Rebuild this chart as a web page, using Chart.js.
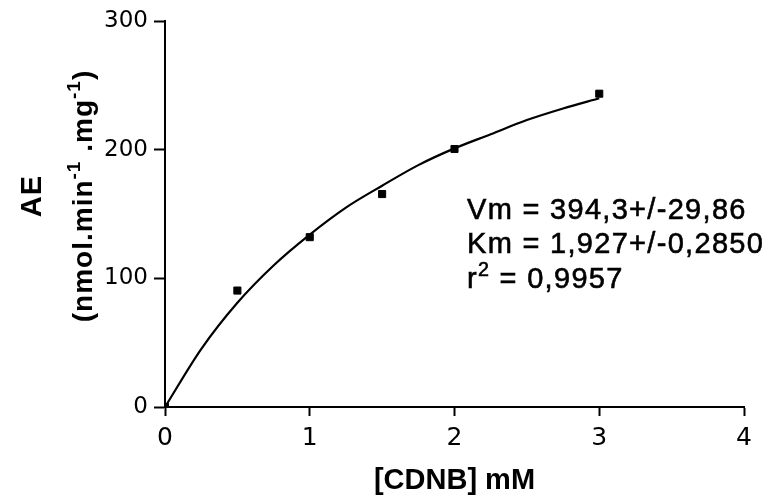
<!DOCTYPE html>
<html>
<head>
<meta charset="utf-8">
<script src="https://cdn.jsdelivr.net/npm/chart.js@4"></script>
<style>
  html, body { margin: 0; padding: 0; background: #fff; }
  #wrap { width: 774px; height: 500px; }
</style>
</head>
<body>
<div id="wrap"><canvas id="chart" width="774" height="500"></canvas></div>
<script>
// measured points
const cdnb = [0, 0.5, 1, 1.5, 2, 3];
const activity = [0, 90.5, 132, 165.5, 200.5, 243.5];

// fitted curve
const fitX = [0, 0.25, 0.5, 0.75, 1, 1.25, 1.5, 1.75, 2, 2.25, 2.5, 2.75, 3];
const fitY = [0, 45, 81, 110, 134, 155, 172, 188, 201, 212, 223, 232, 240];

const xTicks = [0, 1, 2, 3, 4];
const yTicks = [0, 100, 200, 300];

const fitText = ['Vm = 394,3+/-29,86', 'Km = 1,927+/-0,2850'];
const r2Text = '0,9957';

const FONT = '"Liberation Sans", Arial, sans-serif';
const TICKFONT = '"DejaVu Sans", sans-serif';

// draws text pieces, some raised as superscript
function drawPieces(ctx, pieces, x, y, size, bold, spacing, stroke) {
  let cx = x;
  pieces.forEach(p => {
    const s = p.sup ? size * 0.68 : size;
    ctx.font = (bold ? 'bold ' : '') + s + 'px ' + FONT;
    ctx.letterSpacing = spacing + 'px';
    const yy = p.sup ? y - size * 0.42 : y;
    ctx.fillText(p.t, cx, yy);
    if (stroke) {
      ctx.lineWidth = stroke;
      ctx.strokeStyle = '#000';
      ctx.strokeText(p.t, cx, yy);
    }
    cx += ctx.measureText(p.t).width;
  });
  ctx.letterSpacing = '0px';
  return cx - x;
}
function piecesWidth(ctx, pieces, size, bold, spacing) {
  let w = 0;
  pieces.forEach(p => {
    const s = p.sup ? size * 0.68 : size;
    ctx.font = (bold ? 'bold ' : '') + s + 'px ' + FONT;
    ctx.letterSpacing = spacing + 'px';
    w += ctx.measureText(p.t).width;
  });
  ctx.letterSpacing = '0px';
  return w;
}

const textPlugin = {
  id: 'textPlugin',
  afterDraw(chart) {
    const ctx = chart.ctx;
    ctx.save();
    ctx.fillStyle = '#000';
    ctx.textBaseline = 'alphabetic';
    ctx.textAlign = 'left';

    // y axis title, two rotated lines
    const cy = 196;
    const l1 = [{ t: 'AE' }];
    const l2 = [{ t: '(nmol.min' }, { t: '-1', sup: true }, { t: ' .mg' }, { t: '-1', sup: true }, { t: ')' }];
    ctx.save();
    ctx.translate(41, cy);
    ctx.rotate(-Math.PI / 2);
    drawPieces(ctx, l1, -piecesWidth(ctx, l1, 29, true, 1) / 2, 0, 29, true, 1);
    ctx.restore();
    ctx.save();
    ctx.translate(92, cy);
    ctx.rotate(-Math.PI / 2);
    drawPieces(ctx, l2, -piecesWidth(ctx, l2, 28, true, 1) / 2, 0, 28, true, 1);
    ctx.restore();

    // fit parameters
    const tx = 467;
    drawPieces(ctx, [{ t: fitText[0] }], tx, 219, 29, false, 1.3, 0.6);
    drawPieces(ctx, [{ t: fitText[1] }], tx, 253, 29, false, 1.3, 0.6);
    drawPieces(ctx, [{ t: 'r' }, { t: '2', sup: true }, { t: ' = ' + r2Text }], tx, 288, 29, false, 1.3, 0.6);
    ctx.restore();
  }
};

const axisLine = { display: true, color: '#000', width: 2 };

new Chart(document.getElementById('chart'), {
  type: 'scatter',
  data: {
    datasets: [
      {
        label: 'fit',
        data: fitX.map((x, i) => ({ x: x, y: fitY[i] })),
        showLine: true,
        borderColor: '#000',
        borderWidth: 2.2,
        pointRadius: 0,
        cubicInterpolationMode: 'monotone',
        fill: false
      },
      {
        label: 'AE',
        data: cdnb.map((x, i) => ({ x: x, y: activity[i] })),
        showLine: false,
        pointStyle: 'rect',
        pointRadius: 5,
        backgroundColor: '#000',
        borderColor: '#000',
        borderWidth: 1
      }
    ]
  },
  options: {
    responsive: false,
    animation: false,
    layout: { padding: { top: 21, right: 30, left: 0, bottom: 0 } },
    plugins: { legend: { display: false }, tooltip: { enabled: false } },
    scales: {
      x: {
        type: 'linear',
        min: 0, max: 4,
        afterBuildTicks: (s) => { s.ticks = xTicks.map(v => ({ value: v })); },
        afterFit: (s) => { s.height = 93; },
        border: axisLine,
        grid: { drawOnChartArea: false, tickLength: 9, tickWidth: 2, tickColor: '#000' },
        ticks: { color: '#000', padding: 7, font: { family: TICKFONT, size: 25 } },
        title: {
          display: true, text: '[CDNB] mM', color: '#000',
          font: { family: FONT, size: 29, weight: 'bold' },
          padding: { top: 0, bottom: 2 }
        }
      },
      y: {
        type: 'linear',
        min: 0, max: 300,
        afterBuildTicks: (s) => { s.ticks = yTicks.map(v => ({ value: v })); },
        afterFit: (s) => { s.width = 165; },
        border: axisLine,
        grid: { drawOnChartArea: false, tickLength: 11, tickWidth: 2, tickColor: '#000' },
        ticks: { color: '#000', padding: 6, font: { family: TICKFONT, size: 23 } }
      }
    }
  },
  plugins: [textPlugin]
});
</script>
</body>
</html>
